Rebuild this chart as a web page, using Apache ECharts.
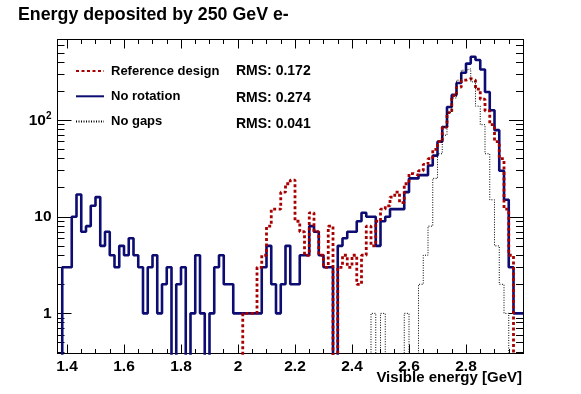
<!DOCTYPE html>
<html>
<head>
<meta charset="utf-8">
<script src="https://cdn.jsdelivr.net/npm/echarts@6/dist/echarts.min.js"></script>
<style>
  html, body { margin: 0; padding: 0; background: #fff; }
  #chart { width: 581px; height: 394px; }
</style>
</head>
<body>
<div id="chart"></div>
<script>
// binning: 1/60 GeV bins, first bin starts at 1.3667 GeV (98 bins up to 3.0)
const binStart = 82 / 60
const binWidth = 1 / 60

// counts per bin
const noRotation = [
  0, 3, 3, 10, 17, 7, 8, 13, 16, 5,
  7, 4, 3, 5, 4, 6, 4, 3, 1, 3,
  4, 1, 2, 3, 0, 2, 3, 0, 1, 4,
  1, 0, 1, 3, 4, 2, 2, 1, 1, 1,
  1, 1, 1, 3, 5, 2, 1, 2, 5, 2,
  2, 4, 4, 8, 7, 4, 3, 3, 0, 5,
  6, 7, 7, 9, 11, 10, 10, 5, 9, 10,
  12, 12, 12, 18, 25, 25, 27, 27, 34, 43,
  60, 85, 137, 183, 243, 310, 386, 455, 420, 335,
  196, 127, 79, 30, 15, 3, 1, 1
]
const referenceDesign = [
  0, 0, 0, 0, 0, 0, 0, 0, 0, 0,
  0, 0, 0, 0, 0, 0, 0, 0, 0, 0,
  0, 0, 0, 0, 0, 0, 0, 0, 0, 0,
  0, 0, 0, 0, 0, 0, 0, 0, 0, 1,
  1, 1, 3, 4, 8, 12, 12, 18, 22, 24,
  9, 7, 4, 11, 7, 4, 3, 8, 0, 3,
  4, 3, 4, 2, 4, 8, 5, 9, 12, 13,
  16, 18, 14, 22, 28, 27, 30, 35, 40, 50,
  60, 85, 120, 180, 220, 260, 270, 260, 210, 165,
  125, 90, 60, 40, 12, 4, 0, 0
]
const noGaps = [
  0, 0, 0, 0, 0, 0, 0, 0, 0, 0,
  0, 0, 0, 0, 0, 0, 0, 0, 0, 0,
  0, 0, 0, 0, 0, 0, 0, 0, 0, 0,
  0, 0, 0, 0, 0, 0, 0, 0, 0, 0,
  0, 0, 0, 0, 0, 0, 0, 0, 0, 0,
  0, 0, 0, 0, 0, 0, 0, 0, 0, 0,
  0, 0, 0, 0, 0, 0, 1, 0, 1, 0,
  0, 0, 0, 1, 0, 0, 2, 4, 8, 25,
  45, 70, 120, 170, 260, 330, 340, 250, 140, 90,
  45, 15, 5, 2, 1, 0, 0, 0
]

const seriesNames = ['Reference design', 'No rotation', 'No gaps']
const rmsLabels = ['RMS: 0.172', 'RMS: 0.274', 'RMS: 0.041']

const xTicks = [1.4, 1.6, 1.8, 2, 2.2, 2.4, 2.6, 2.8]
const xMinorTicks = [1.4, 1.45, 1.5, 1.55, 1.6, 1.65, 1.7, 1.75, 1.8, 1.85, 1.9, 1.95,
  2, 2.05, 2.1, 2.15, 2.2, 2.25, 2.3, 2.35, 2.4, 2.45, 2.5, 2.55, 2.6, 2.65, 2.7, 2.75,
  2.8, 2.85, 2.9, 2.95]
const yTicks = [1, 10, 100]
const yMinorTicks = [0.4, 0.5, 0.6, 0.7, 0.8, 0.9, 2, 3, 4, 5, 6, 7, 8, 9,
  20, 30, 40, 50, 60, 70, 80, 90, 200, 300, 400, 500, 600]

const X_MIN = binStart
const X_MAX = 3.0
const Y_MIN = 0.384
const Y_MAX = 686

const RED = '#a80000'
const BLUE = '#0c0c72'
const BLACK = '#000000'
const FONT = 'Liberation Sans'

// histogram outline: one point per bin edge, empty bins pushed below the axis
function toSteps(counts) {
  const pts = counts.map((c, i) => [binStart + i * binWidth, c > 0 ? c : 0.05])
  const last = counts[counts.length - 1]
  pts.push([binStart + counts.length * binWidth, last > 0 ? last : 0.05])
  return pts
}

const frameLine = { show: true, onZero: false, lineStyle: { color: '#000', width: 1 } }
const tickLine = { color: '#000', width: 1 }

function xAxisOf(position, len, values, withLabels) {
  const axis = {
    type: 'value',
    position: position,
    min: X_MIN,
    max: X_MAX,
    splitLine: { show: false },
    axisLine: frameLine,
    axisTick: { show: true, inside: true, length: len, customValues: values, lineStyle: tickLine },
    axisLabel: { show: false }
  }
  if (withLabels) {
    axis.axisLabel = {
      show: true,
      customValues: xTicks,
      margin: 5,
      color: '#000',
      fontFamily: FONT,
      fontWeight: 'bold',
      fontSize: 15.5
    }
  }
  return axis
}

function yAxisOf(position, len, values, withLabels) {
  const axis = {
    type: 'log',
    logBase: 10,
    position: position,
    min: Y_MIN,
    max: Y_MAX,
    splitLine: { show: false },
    axisLine: frameLine,
    axisTick: { show: true, inside: true, length: len, customValues: values, lineStyle: tickLine },
    axisLabel: { show: false }
  }
  if (withLabels) {
    axis.axisLabel = {
      show: true,
      customValues: yTicks,
      margin: 6,
      color: '#000',
      fontFamily: FONT,
      fontWeight: 'bold',
      fontSize: 15.5,
      formatter: function (v) {
        if (v >= 100) return '{b|10}{s|2}'
        return '{b|' + Math.round(v) + '}'
      },
      rich: {
        b: { fontFamily: FONT, fontWeight: 'bold', fontSize: 15.5, color: '#000' },
        s: { fontFamily: FONT, fontWeight: 'bold', fontSize: 10, color: '#000', padding: [0, 0, 9, 0] }
      }
    }
  }
  return axis
}

const chart = echarts.init(document.getElementById('chart'), null, { renderer: 'canvas' })

const graphics = rmsLabels.map((t, i) => ({
  type: 'text',
  left: 236,
  top: 64.5 + i * 26.3,
  style: { text: t, font: 'bold 14px "Liberation Sans"', fill: '#000' }
}))
// x axis title, right-aligned under the tick labels
graphics.push({
  type: 'text',
  right: 59,
  top: 370,
  style: { text: 'Visible energy [GeV]', font: 'bold 15px "Liberation Sans"', fill: '#000' }
})

const option = {
  animation: false,
  backgroundColor: '#fff',
  textStyle: { fontFamily: FONT },
  title: {
    text: 'Energy deposited by 250 GeV e-',
    left: 18,
    top: 6,
    padding: 0,
    textStyle: { fontFamily: FONT, fontWeight: 'bold', fontSize: 17.8, color: '#000' }
  },
  grid: { left: 57.5, right: 58, top: 39.5, bottom: 40.5, containLabel: false, outerBoundsMode: 'none' },
  legend: {
    data: seriesNames,
    orient: 'vertical',
    left: 75,
    top: 64.5,
    padding: 0,
    itemWidth: 28,
    itemHeight: 14,
    itemGap: 12.3,
    itemStyle: { opacity: 0 },
    textStyle: { fontFamily: FONT, fontWeight: 'bold', fontSize: 13, color: '#000', padding: [0, 0, 0, 2] },
    selectedMode: false
  },
  graphic: graphics,
  xAxis: [
    xAxisOf('bottom', 9, xTicks, true),
    xAxisOf('bottom', 4.5, xMinorTicks, false),
    xAxisOf('top', 9, xTicks, false),
    xAxisOf('top', 4.5, xMinorTicks, false)
  ],
  yAxis: [
    yAxisOf('left', 14, yTicks, true),
    yAxisOf('left', 7, yMinorTicks, false),
    yAxisOf('right', 14, yTicks, false),
    yAxisOf('right', 7, yMinorTicks, false)
  ],
  series: [
    {
      name: 'No rotation',
      type: 'line',
      step: 'end',
      data: toSteps(noRotation),
      symbol: 'none',
      clip: true,
      itemStyle: { color: BLUE },
      lineStyle: { color: BLUE, width: 2.6 }
    },
    {
      name: 'Reference design',
      type: 'line',
      step: 'end',
      data: toSteps(referenceDesign),
      symbol: 'none',
      clip: true,
      itemStyle: { color: RED },
      lineStyle: { color: RED, width: 2.8, type: [3, 2.5] }
    },
    {
      name: 'No gaps',
      type: 'line',
      step: 'end',
      data: toSteps(noGaps),
      symbol: 'none',
      clip: true,
      itemStyle: { color: BLACK },
      lineStyle: { color: BLACK, width: 1, type: [1, 1.5] }
    }
  ]
}

chart.setOption(option)
</script>
</body>
</html>
